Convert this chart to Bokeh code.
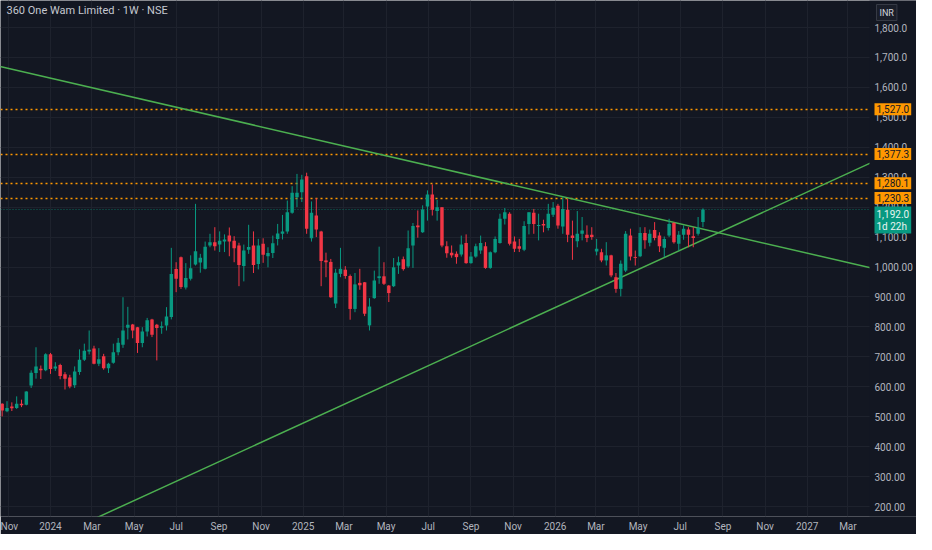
import pandas as pd
from bokeh.plotting import figure
from bokeh.models import Range1d, FixedTicker, Label, ColumnDataSource
from bokeh.core.properties import value
from bokeh.embed import file_html
from bokeh.resources import INLINE

# ---------------- data ----------------
title_text = "360 One Wam Limited \u00b7 1W \u00b7 NSE"
first_week = "2023-10-23"
opens = [543, 518, 534, 529, 543, 540, 604, 646, 660, 655, 709, 661, 673, 642, 631, 605, 649, 690, 718, 728,
         677, 702, 662, 680, 715, 740, 797, 808, 799, 746, 785, 825, 807, 797, 805, 833, 993, 1033, 932, 961,
         1008, 1015, 994, 1072, 1083, 1075, 1085, 1105, 1088, 1072, 1003, 1058, 1072, 1010, 1078, 1036, 1047, 1094, 1111, 1119,
         1181, 1233, 1250, 1303, 1096, 1172, 1119, 1022, 1017, 878, 977, 991, 970, 860, 947, 949, 805, 896, 963, 969,
         938, 936, 1005, 1026, 1002, 1072, 1139, 1116, 1202, 1242, 1187, 1200, 1069, 1048, 1044, 1042, 1080, 1013, 1035, 1055,
         1069, 997, 1049, 1080, 1161, 1178, 1085, 1069, 1058, 1144, 1181, 1137, 1144, 1130, 1175, 1205, 1135, 1191, 1105, 1086,
         1111, 1108, 1108, 1052, 1049, 1022, 1039, 966, 927, 988, 1105, 1033, 1036, 1114, 1081, 1124, 1105, 1064, 1105, 1147,
         1078, 1108, 1125, 1103, 1111, 1150]
highs = [545, 552, 548, 568, 557, 585, 655, 732, 671, 712, 713, 682, 677, 649, 640, 668, 725, 744, 788, 737,
         729, 710, 680, 744, 763, 899, 867, 810, 800, 799, 830, 827, 810, 818, 866, 1064, 1016, 1035, 1013, 1039,
         1211, 1044, 1085, 1111, 1133, 1119, 1109, 1132, 1103, 1081, 1075, 1141, 1119, 1094, 1096, 1066, 1105, 1144, 1174, 1222,
         1270, 1311, 1308, 1315, 1219, 1230, 1121, 1048, 1027, 994, 1064, 1003, 975, 980, 994, 950, 896, 988, 1068, 1016,
         940, 1030, 1035, 1035, 1122, 1147, 1189, 1206, 1256, 1276, 1224, 1200, 1086, 1072, 1052, 1105, 1109, 1050, 1078, 1105,
         1083, 1052, 1102, 1178, 1197, 1183, 1102, 1094, 1153, 1183, 1194, 1178, 1158, 1211, 1217, 1211, 1233, 1228, 1155, 1187,
         1167, 1139, 1133, 1094, 1061, 1083, 1041, 980, 1022, 1120, 1128, 1055, 1133, 1133, 1125, 1150, 1116, 1102, 1161, 1150,
         1120, 1139, 1133, 1133, 1167, 1196]
lows = [501, 515, 519, 526, 532, 538, 596, 627, 626, 652, 643, 653, 625, 591, 595, 596, 640, 686, 708, 675,
        669, 657, 646, 677, 705, 730, 758, 762, 713, 732, 768, 766, 688, 777, 788, 825, 916, 927, 925, 955,
        1005, 981, 992, 1066, 1055, 1050, 1050, 1036, 1016, 936, 952, 1044, 980, 992, 1014, 999, 1030, 1072, 1092, 1111,
        1178, 1200, 1217, 1111, 1085, 1100, 936, 966, 897, 863, 966, 961, 824, 849, 924, 836, 788, 894, 944, 940,
        883, 933, 977, 988, 997, 997, 1098, 1114, 1155, 1172, 1155, 1066, 1031, 1031, 1011, 1035, 1011, 1011, 1031, 1044,
        994, 994, 1046, 1078, 1142, 1072, 1050, 1050, 1053, 1109, 1111, 1089, 1116, 1122, 1167, 1128, 1111, 1083, 1024, 1066,
        1089, 1083, 1091, 1039, 1016, 1005, 966, 914, 902, 983, 1022, 1005, 1033, 1061, 1069, 1089, 1050, 1033, 1100, 1078,
        1055, 1091, 1066, 1066, 1105, 1133]
closes = [521, 529, 528, 543, 538, 584, 647, 668, 655, 709, 659, 668, 636, 627, 601, 651, 690, 720, 724, 677,
          692, 662, 677, 715, 747, 788, 807, 788, 746, 785, 822, 774, 796, 802, 835, 977, 961, 933, 963, 996,
          1053, 1031, 1068, 1083, 1069, 1088, 1092, 1085, 1063, 1007, 1055, 1067, 1007, 1072, 1041, 1047, 1079, 1112, 1119, 1183,
          1248, 1248, 1292, 1128, 1181, 1125, 1020, 1016, 899, 981, 994, 970, 860, 942, 939, 844, 868, 955, 969, 944,
          913, 999, 1016, 993, 1063, 1137, 1133, 1192, 1242, 1191, 1200, 1072, 1046, 1039, 1033, 1075, 1013, 1035, 1069, 1080,
          997, 1049, 1094, 1161, 1183, 1078, 1061, 1061, 1137, 1183, 1144, 1140, 1139, 1178, 1198, 1139, 1194, 1108, 1097, 1111,
          1122, 1097, 1100, 1061, 1022, 1039, 972, 927, 1011, 1111, 1035, 1030, 1114, 1089, 1111, 1097, 1069, 1094, 1144, 1083,
          1108, 1128, 1108, 1097, 1131, 1192.0]

level_values = [1527.0, 1377.3, 1280.1, 1230.3]
last_price = 1192.0
countdown = "1d 22h"
currency = "INR"

trend_down_dates = ["2023-10-20", "2027-04-26"]
trend_down_values = [1670, 985]
trend_up_dates = ["2024-01-21", "2027-04-26"]
trend_up_values = [113, 1372]

x_tick_dates = ["2023-11-01", "2024-01-01", "2024-03-01", "2024-05-01", "2024-07-01", "2024-09-01", "2024-11-01",
                "2025-01-01", "2025-03-01", "2025-05-01", "2025-07-01", "2025-09-01", "2025-11-01",
                "2026-01-01", "2026-03-01", "2026-05-01", "2026-07-01", "2026-09-01", "2026-11-01",
                "2027-01-01", "2027-03-01"]
x_tick_labels = ["Nov", "2024", "Mar", "May", "Jul", "Sep", "Nov", "2025", "Mar", "May", "Jul", "Sep", "Nov",
                 "2026", "Mar", "May", "Jul", "Sep", "Nov", "2027", "Mar"]
y_tick_values = [200, 300, 400, 500, 600, 700, 800, 900, 1000, 1100, 1200, 1300, 1400, 1500, 1600, 1700, 1800]

# ---------------- styling / layout ----------------
BG = "#131722"
GRID = "#1e222d"
TXT = "#b2b5be"
UP = "#089981"
DOWN = "#f23645"
TREND = "#4caf50"
ORANGE = "#ff9800"
FONT = "Roboto"

base = pd.Timestamp("2024-01-01")


def day(s):
    return (pd.Timestamp(s) - base).days


PX_PER_DAY = 252.0 / 365.0          # horizontal scale of the reference
UNITS_PER_PX = 100.0 / 29.94         # vertical scale of the reference
FRAME_W, FRAME_H = 916, 516
X0 = -50 / PX_PER_DAY
X1 = X0 + FRAME_W / PX_PER_DAY
Y1 = 1800 + 27 * UNITS_PER_PX
Y0 = Y1 - FRAME_H * UNITS_PER_PX
CHART_R = X0 + 869 / PX_PER_DAY      # right edge of the price pane
LABEL_X = X0 + 874 / PX_PER_DAY      # left edge of price-scale texts


def px_y(py):
    return Y1 - py * UNITS_PER_PX


dates = pd.date_range(first_week, periods=len(opens), freq="7D")
xs = [(d - base).days for d in dates]
tops = [max(o, c, min(o, c) + 2) for o, c in zip(opens, closes)]
bots = [min(o, c) for o, c in zip(opens, closes)]
cols = [UP if c >= o else DOWN for o, c in zip(opens, closes)]
src = ColumnDataSource(dict(x=xs, h=highs, l=lows, top=tops, bot=bots, color=cols))

p = figure(frame_width=FRAME_W, frame_height=FRAME_H, output_backend="svg", toolbar_location=None,
           x_range=Range1d(X0, X1), y_range=Range1d(Y0, Y1), y_axis_location=None,
           min_border_left=0, min_border_top=0, min_border_right=0, min_border_bottom=0)
p.background_fill_color = BG
p.border_fill_color = BG
p.outline_line_color = None

xt = [day(s) for s in x_tick_dates]
p.xaxis.ticker = FixedTicker(ticks=xt, minor_ticks=[])
p.xaxis.major_label_overrides = {int(t): lab for t, lab in zip(xt, x_tick_labels)}
p.xaxis.axis_line_color = None
p.xaxis.major_tick_line_color = None
p.xaxis.minor_tick_line_color = None
p.xaxis.major_tick_out = 0
p.xaxis.major_tick_in = 0
p.xaxis.major_label_text_color = TXT
p.xaxis.major_label_text_font = FONT
p.xaxis.major_label_text_font_size = "10px"
p.xaxis.major_label_standoff = 4
p.xgrid.ticker = FixedTicker(ticks=xt)
p.ygrid.ticker = FixedTicker(ticks=y_tick_values)
p.xgrid.grid_line_color = GRID
p.ygrid.grid_line_color = GRID

# horizontal level lines
p.hspan(y=level_values, line_color=ORANGE, line_dash="2 3", line_width=1.4)
p.hspan(y=[last_price], line_color=UP, line_alpha=0.6, line_dash="1 2", line_width=1)

# trend lines
p.line([day(s) for s in trend_down_dates], trend_down_values, line_color=TREND, line_width=1.5)
p.line([day(s) for s in trend_up_dates], trend_up_values, line_color=TREND, line_width=1.5)

# candles
p.segment(x0="x", y0="h", x1="x", y1="l", color="color", line_width=1, source=src)
p.vbar(x="x", width=5.0, top="top", bottom="bot", fill_color="color", line_color=None, source=src)

# price scale pane (covers the right column)
p.quad(left=[CHART_R], right=[X1], bottom=[Y0], top=[Y1], fill_color=BG, line_color=None)
y_labels = [(f"{v:,.1f}" if v > 1000 else f"{v:,.2f}") for v in y_tick_values]
p.text(x=[LABEL_X] * len(y_tick_values), y=y_tick_values, text=y_labels, text_font=value(FONT),
       text_font_size="10px", text_color=TXT, text_baseline="middle", text_align="left")

# title
p.add_layout(Label(x=X0 + 6 / PX_PER_DAY, y=px_y(10), text=title_text, text_font=FONT, text_font_size="11px",
                   text_color="#c5c8d0", text_baseline="middle", text_align="left"))

# price tags
for lv in level_values:
    p.add_layout(Label(x=LABEL_X, y=lv, text=f"{lv:,.1f}", text_font=FONT, text_font_size="10px",
                       text_color="#131722", text_baseline="middle", text_align="left",
                       background_fill_color=ORANGE, padding=2))
p.add_layout(Label(x=LABEL_X, y=px_y(206), text=f"{last_price:,.1f}\n{countdown}", text_font=FONT,
                   text_font_size="10px", text_color="#e8f5f2", text_baseline="top", text_align="left",
                   background_fill_color=UP, padding=2, text_line_height=1.1))
p.add_layout(Label(x=LABEL_X + 2 / PX_PER_DAY, y=px_y(4), text=currency, text_font=FONT, text_font_size="9px",
                   text_color="#d1d4dc", text_baseline="top", text_align="left",
                   background_fill_color="#1a1e29", border_line_color="#363a45", padding=3))

open("out.html", "w").write(file_html(p, INLINE))
